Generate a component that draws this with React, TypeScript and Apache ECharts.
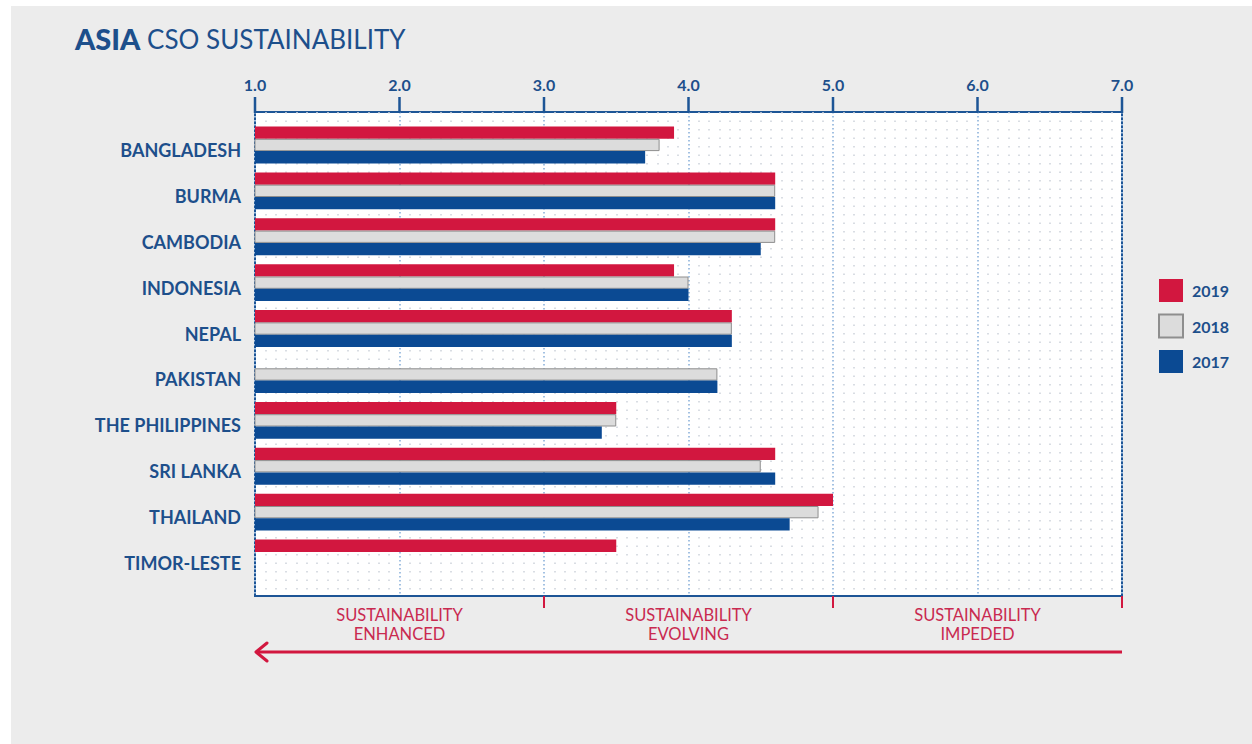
import React, { useEffect, useRef } from "react";
import * as echarts from "echarts";

const categories = [
  "BANGLADESH",
  "BURMA",
  "CAMBODIA",
  "INDONESIA",
  "NEPAL",
  "PAKISTAN",
  "THE PHILIPPINES",
  "SRI LANKA",
  "THAILAND",
  "TIMOR-LESTE",
];
const years = ["2019", "2018", "2017"];
const values2019 = [3.9, 4.6, 4.6, 3.9, 4.3, null, 3.5, 4.6, 5.0, 3.5];
const values2018 = [3.8, 4.6, 4.6, 4.0, 4.3, 4.2, 3.5, 4.5, 4.9, null];
const values2017 = [3.7, 4.6, 4.5, 4.0, 4.3, 4.2, 3.4, 4.6, 4.7, null];
const axisTicks = [1, 2, 3, 4, 5, 6, 7];
const zoneTicks = [3, 5, 7];
const zoneCenters = [2, 4, 6];
const zones = [
  ["SUSTAINABILITY", "ENHANCED"],
  ["SUSTAINABILITY", "EVOLVING"],
  ["SUSTAINABILITY", "IMPEDED"],
];

const BLUE_TEXT = "#1d4f8b";
const BLUE_LINE = "#1d5596";
const RED = "#d2173f";
const RED_TEXT = "#c92a50";
const GRAY = "#dcdcdc";
const NAVY = "#0b4a93";
const FONT = "Lato";

const hiddenValueAxis = (gridIndex: number, min: number, max: number) => ({
  gridIndex,
  type: "value",
  min,
  max,
  show: false,
  axisLine: { show: false },
  axisTick: { show: false },
  axisLabel: { show: false },
  splitLine: { show: false },
});

export default function App() {
  const ref = useRef<HTMLDivElement>(null);
  useEffect(() => {
    const chart = echarts.init(ref.current!, null, { renderer: "svg" });
    const left = 255;
    const right = 1122;
    const unit = (right - left) / 6;
    const xOf = (v: number) => left + (v - 1) * unit;

    const seriesData = [values2019, values2018, values2017];
    const colors = [RED, GRAY, NAVY];

    const graphic: any[] = [
      {
        type: "rect",
        shape: { x: 11, y: 6, width: 1241, height: 738 },
        style: { fill: "#ececec" },
        z: -100,
        silent: true,
      },
      {
        type: "text",
        x: 75,
        y: 24,
        style: {
          text: "{b|ASIA}{r| CSO SUSTAINABILITY}",
          rich: {
            b: { fontFamily: FONT, fontSize: 29, fontWeight: 900, fill: BLUE_TEXT },
            r: { fontFamily: FONT, fontSize: 26, fontWeight: "normal", fill: BLUE_TEXT },
          },
        },
      },
      {
        type: "polyline",
        shape: { points: [[1122, 652], [258, 652]] },
        style: { stroke: RED, lineWidth: 3 },
      },
      {
        type: "polyline",
        shape: { points: [[267, 643], [256, 652], [267, 661]] },
        style: { stroke: RED, lineWidth: 3, lineCap: "round", lineJoin: "round", fill: null },
      },
    ];
    axisTicks.forEach((v) => {
      graphic.push({
        type: "line",
        z: 50,
        shape: { x1: xOf(v), y1: 97, x2: xOf(v), y2: 113 },
        style: { stroke: BLUE_LINE, lineWidth: v === 7 ? 2.5 : 2.5 },
      });
    });
    zoneTicks.forEach((v) => {
      graphic.push({
        type: "line",
        z: 50,
        shape: { x1: xOf(v), y1: 596, x2: xOf(v), y2: 608 },
        style: { stroke: RED, lineWidth: 2 },
      });
    });
    zoneCenters.forEach((v, i) => {
      graphic.push({
        type: "text",
        x: xOf(v),
        y: 605,
        style: {
          text: zones[i].join("\n"),
          fontFamily: FONT,
          fontSize: 16.5,
          lineHeight: 19.5,
          fill: RED_TEXT,
          align: "center",
          verticalAlign: "top",
        },
      });
    });

    chart.setOption({
      animation: false,
      backgroundColor: "#ffffff",
      textStyle: { fontFamily: FONT },
      legend: {
        orient: "vertical",
        left: 1158,
        top: 279,
        padding: 0,
        itemWidth: 24,
        itemHeight: 23,
        itemGap: 11.5,
        icon: "rect",
        data: years,
        textStyle: { fontFamily: FONT, fontSize: 16, fontWeight: "bold", color: BLUE_TEXT, padding: [0, 0, 0, 4] },
      },
      grid: [
        {
          left: left,
          right: 1252 - right,
          top: 112,
          height: 484,
          show: true,
          backgroundColor: "#ffffff",
          borderColor: BLUE_LINE,
          borderWidth: 2,
        },
        {
          left: left,
          right: 1252 - right,
          top: 122,
          height: 459,
        },
        {
          left: left,
          right: 1252 - right,
          top: 127,
          height: 459,
        },
      ],
      xAxis: [
        {
          gridIndex: 0,
          type: "value",
          position: "top",
          min: 1,
          max: 7,
          interval: 1,
          axisLine: { show: true, lineStyle: { color: BLUE_LINE, width: 2 } },
          axisTick: { show: false },
          axisLabel: {
            margin: 20,
            formatter: (v: number) => v.toFixed(1),
            fontFamily: FONT,
            fontSize: 16,
            fontWeight: "bold",
            color: BLUE_TEXT,
          },
          splitLine: { show: true, lineStyle: { color: "#a3c1e2", width: 2, type: [1.5, 2.5] } },
          minorTick: { show: false, splitNumber: 14 },
          minorSplitLine: { show: true, lineStyle: { color: "#cdd2da", width: 1.5, type: [1.5, 7] } },
        },
        hiddenValueAxis(1, 1, 7),
        hiddenValueAxis(2, 1, 7),
      ],
      yAxis: [
        hiddenValueAxis(0, 0, 1),
        {
          gridIndex: 1,
          type: "category",
          inverse: true,
          data: categories,
          show: false,
          axisLine: { show: false },
          axisTick: { show: false },
          axisLabel: { show: false },
        },
        {
          gridIndex: 2,
          type: "category",
          inverse: true,
          data: categories,
          axisLine: { show: false },
          axisTick: { show: false },
          splitLine: { show: false },
          axisLabel: {
            margin: 14,
            fontFamily: FONT,
            fontSize: 18,
            fontWeight: "bold",
            color: BLUE_TEXT,
          },
        },
      ],
      series: years.map((y, i) => ({
        name: y,
        type: "bar",
        xAxisIndex: 1,
        yAxisIndex: 1,
        data: seriesData[i],
        barWidth: 12.3,
        barGap: "0%",
        clip: true,
        itemStyle: {
          color: colors[i],
          borderColor: i === 1 ? "#8e8e8e" : colors[i],
          borderWidth: i === 1 ? 1 : 0,
        },
      })),
      graphic,
    });
    return () => chart.dispose();
  }, []);
  return <div ref={ref} style={{ position: "absolute", left: 0, top: 0, width: 1252, height: 744 }} />;
}
